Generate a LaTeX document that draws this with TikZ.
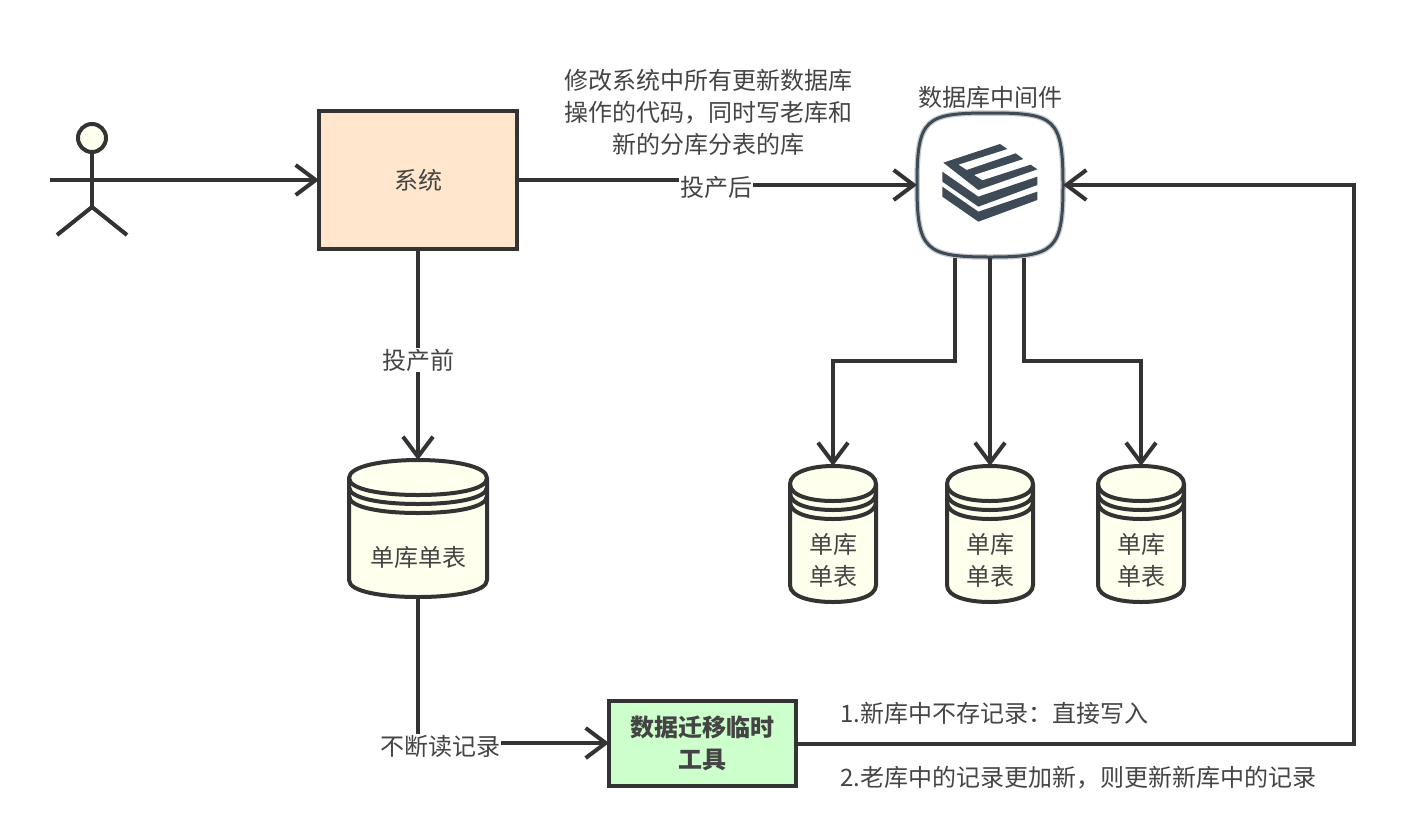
\documentclass[tikz,border=0pt]{standalone}
\usepackage{fontspec}
\setmainfont{Noto Sans CJK SC}
\usetikzlibrary{arrows.meta}

\definecolor{linecol}{HTML}{333333}
\definecolor{textcol}{HTML}{444444}
\definecolor{iconcol}{HTML}{3F4A57}
\definecolor{ivory}{HTML}{FFFFEE}
\definecolor{peach}{HTML}{FFE6CC}
\definecolor{mint}{HTML}{CCFFCC}

\tikzset{
	flow/.style={draw=linecol, line width=4pt, -{Straight Barb[length=20pt,width=30pt]}},
	wire/.style={draw=linecol, line width=4pt},
	txt/.style={text=textcol, align=center, inner sep=0pt, font=\fontsize{24}{32}\selectfont},
	cut/.style={txt, fill=white, inner sep=1pt},
	box/.style={txt, draw=linecol, line width=4pt, outer sep=0pt}
}

% database can: x centre, top y, half width, height, node name
\newcommand{\dbcan}[5]{
	\def\ry{#3*0.125}
	\filldraw[wire, fill=ivory, line join=round]
		(#1-#3, #2+18) -- (#1-#3, #2+#4-17)
		.. controls (#1-#3, #2+#4-5) and (#1-#3*0.5, #2+#4) .. (#1, #2+#4)
		.. controls (#1+#3*0.5, #2+#4) and (#1+#3, #2+#4-5) .. (#1+#3, #2+#4-17)
		-- (#1+#3, #2+18)
		.. controls (#1+#3, #2+6) and (#1+#3*0.5, #2) .. (#1, #2)
		.. controls (#1-#3*0.5, #2) and (#1-#3, #2+6) .. (#1-#3, #2+18) -- cycle;
	\foreach \dy in {0, 9, 18} {
		\draw[wire] (#1-#3, #2+18+\dy)
			.. controls (#1-#3, #2+30+\dy) and (#1-#3*0.5, #2+35+\dy) .. (#1, #2+35+\dy)
			.. controls (#1+#3*0.5, #2+35+\dy) and (#1+#3, #2+30+\dy) .. (#1+#3, #2+18+\dy);
	}
	\node[minimum width=2*#3*1pt, minimum height=#4*1pt, inner sep=0pt, outer sep=0pt]
		(#5) at (#1, #2+#4/2) {};
}

\begin{document}
\begin{tikzpicture}[x=1pt, y=-1pt]
	\def \jogx{716}
	\def \retx{1354}
	\def \forky{361}

	\useasboundingbox (0,0) rectangle (1424,836);

	% Actor
	\node[circle, draw=linecol, fill=ivory, line width=4pt, minimum size=28pt, inner sep=0pt, outer sep=0pt]
		(head) at (92,138) {};
	\coordinate (arm) at (50,180);
	\coordinate (hip) at (92,207);
	\coordinate (footl) at (57,235);
	\coordinate (footr) at (127,235);
	\draw[wire] (head.south) -- (hip);
	\draw[wire] (footl) -- (hip) -- (footr);

	% System and tool boxes
	\node[box, fill=peach, minimum width=198pt, minimum height=138pt] (sys) at (418,180) {系统};
	\node[box, fill=mint, minimum width=187pt, minimum height=85pt, font=\fontsize{24}{32}\selectfont\bfseries]
		(tool) at (702.5,743.5) {数据迁移临时\\工具};

	% Middleware
	\node[minimum width=146pt, minimum height=146pt, inner sep=0pt, outer sep=0pt] (mid) at (990,185) {};
	\foreach \lw/\op in {5.5/0.3, 3/1} {
		\draw[iconcol, line width=\lw pt, opacity=\op]
			(917,185) .. controls (917,118) and (925,113) .. (990,113)
			.. controls (1055,113) and (1063,118) .. (1063,185)
			.. controls (1063,250) and (1055,257) .. (990,257)
			.. controls (925,257) and (917,250) .. (917,185) -- cycle;
	}
	\begin{scope}[shift={(900,90)}, x=0.3333pt, y=-0.3333pt, fill=iconcol]
		\fill (130,218) -- (300,162) -- (322,177) -- (175,224) -- (200,240) -- (347,190)
			-- (370,207) -- (222,255) -- (247,271) -- (392,224) -- (412,238) -- (235,300) -- cycle;
		\foreach \dy in {0, 45} {
			\fill (127,245+\dy) -- (235,320+\dy) -- (412,260+\dy) -- (412,285+\dy)
				-- (235,350+\dy) -- (127,275+\dy) -- cycle;
		}
	\end{scope}
	\node[txt] (midname) at (990,97) {数据库中间件};

	% Databases
	\dbcan{418}{460}{69}{137}{db}
	\node[txt] (dbname) at (418,557) {单库单表};
	\foreach \cx/\name in {833/dba, 990/dbb, 1141/dbc} {
		\dbcan{\cx}{466}{43}{136}{\name}
		\node[txt] (\name text) at (\cx,560) {单库\\单表};
	}

	% Connectors
	\draw[flow] (arm) -- (sys.west |- arm);
	\draw[flow] (sys.east) -- (\jogx,180) -- (\jogx,185) -- (mid.west);
	\draw[flow] (sys.south) -- (db.north);
	\coordinate (corner) at (418,743);
	\draw[flow] (db.south) -- (corner) -- (tool.west |- corner);
	\coordinate (retcorner) at (\retx,185);
	\draw[flow] (tool.east) -- (tool.east -| retcorner) -- (retcorner) -- (mid.east);
	\draw[flow] (955,258) -- (955,\forky) -- (833,\forky) -- (dba.north);
	\draw[flow] (990,258) -- (dbb.north);
	\draw[flow] (1024,258) -- (1024,\forky) -- (1141,\forky) -- (dbc.north);

	% Labels
	\node[cut] (after) at (\jogx,187) {投产后};
	\node[cut] (before) at (418,360) {投产前};
	\node[cut] (read) at (440,746) {不断读记录};
	\node[txt] (note) at (708,112) {修改系统中所有更新数据库\\操作的代码，同时写老库和\\新的分库分表的库};
	\node[txt, anchor=west] (ruleone) at (840,713) {1.新库中不存记录：直接写入};
	\node[txt, anchor=west] (ruletwo) at (840,778) {2.老库中的记录更加新，则更新新库中的记录};
\end{tikzpicture}
\end{document}
